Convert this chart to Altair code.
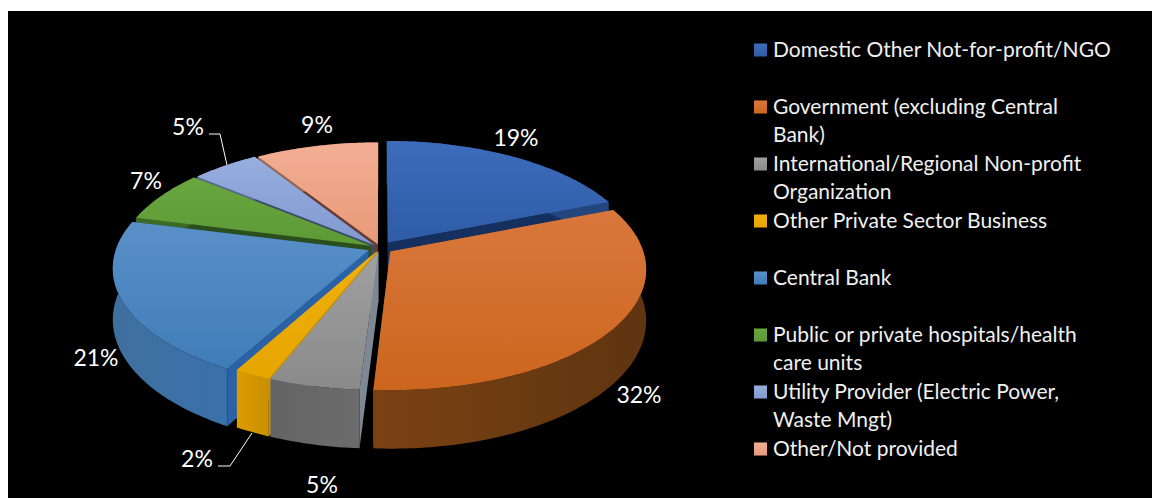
import math
import altair as alt
import pandas as pd

# Shares of respondents by institution type, clockwise from twelve o'clock
CATEGORIES = [
    "Domestic Other Not-for-profit/NGO",
    "Government (excluding Central Bank)",
    "International/Regional Non-profit Organization",
    "Other Private Sector Business",
    "Central Bank",
    "Public or private hospitals/health care units",
    "Utility Provider (Electric Power, Waste Mngt)",
    "Other/Not provided",
]
SHARES = [19, 32, 5, 2, 21, 7, 5, 9]

# Wrapped legend text, one list of lines per category
LEGEND_LINES = [
    ["Domestic Other Not-for-profit/NGO"],
    ["Government (excluding Central", "Bank)"],
    ["International/Regional Non-profit", "Organization"],
    ["Other Private Sector Business"],
    ["Central Bank"],
    ["Public or private hospitals/health", "care units"],
    ["Utility Provider (Electric Power,", "Waste Mngt)"],
    ["Other/Not provided"],
]

# Surface colours per slice: top gradient, outer wall gradient, cut face
TOP_STOPS = [
    ("#3d6cbc", "#2e5ca6"), ("#d9773c", "#cc661e"), ("#a0a0a0", "#8a8a8a"), ("#efb010", "#e6a600"),
    ("#5a90c8", "#3f7db8"), ("#6aa640", "#5d9a35"), ("#97aede", "#8099d0"), ("#f2ae94", "#e89a78"),
]
WALL_STOPS = [
    ("#24467f", "#24467f"), ("#7a4213", "#5f3410"), ("#646464", "#6c6c6c"), ("#dc9c00", "#c98f00"),
    ("#3f6f9e", "#3a70aa"), ("#3d6a24", "#3d6a24"), ("#5a6c98", "#5a6c98"), ("#9c6650", "#9c6650"),
]
CUT_COLORS = ["#15305f", "#8a4a15", "#7d8894", "#c98f00", "#2a62a8", "#2b4f1c", "#3c4c70", "#6b3b30"]

# How far each slice is pulled out of the disc, as a fraction of its radius
PULL = [0.055, 0.05, 0.03, 0.03, 0.05, 0.04, 0.035, 0.03]

# Label layout: text, centre x, centre y
PCT_LABELS = [("19%", 516, 139), ("32%", 639, 396), ("5%", 322, 486), ("2%", 197, 460),
              ("21%", 96, 359), ("7%", 146, 182), ("5%", 188, 128), ("9%", 317, 126)]
LEADERS = [[(227, 165), (220, 134), (209, 134)], [(252, 433), (230, 466), (218, 466)]]
LEGEND_Y = [51, 108, 136, 165, 193, 222, 279, 336, 364, 393, 421, 450]
SWATCH_Y = [50, 107, 164, 221, 278, 335, 392, 449]

# Projection of the tilted disc: unit-circle position to canvas position
CX, CY, RX, KY, PERSP, WALL = 380, 248, 252, 117.7, 1 / 7, 50
W, H = 1152, 498


def project(px, pz, drop=0.0):
    d = 1 - PERSP * pz
    return CX + RX * px / d, CY + (KY * pz + drop) / d


def slice_surfaces(start, end, pull):
    """Top, outer wall and cut faces of one exploded slice; angles in degrees."""
    mid = math.radians((start + end) / 2)
    ox, oz = pull * math.sin(mid), -pull * math.cos(mid)
    steps = max(2, int(end - start))
    rim = []
    for s in range(steps + 1):
        a = math.radians(start + (end - start) * s / steps)
        rim.append((ox + math.sin(a), oz - math.cos(a)))
    top = [project(ox, oz)] + [project(*p) for p in rim]
    wall = [project(*p) for p in rim] + [project(*p, WALL) for p in reversed(rim)]
    cuts = [
        [project(ox, oz), project(*p), project(*p, WALL), project(ox, oz, WALL)]
        for p in (rim[0], rim[-1])
    ]
    return top, wall, cuts


def gradient(stops, vertical=True):
    return alt.Gradient(
        gradient="linear",
        stops=[alt.GradientStop(offset=0, color=stops[0]), alt.GradientStop(offset=1, color=stops[1])],
        x1=0, y1=0, x2=0 if vertical else 1, y2=1 if vertical else 0,
    )


X = alt.X("x:Q", scale=alt.Scale(domain=[0, W], nice=False, zero=False), axis=None)
Y = alt.Y("y:Q", scale=alt.Scale(domain=[H, 0], nice=False, zero=False), axis=None)


def polygon(points, fill):
    df = pd.DataFrame({"x": [p[0] for p in points], "y": [p[1] for p in points], "i": range(len(points))})
    return alt.Chart(df).mark_line(
        interpolate="linear-closed", fill=fill, stroke=None, strokeWidth=0, clip=False
    ).encode(x=X, y=Y, order=alt.Order("i:Q"))


layers = [
    alt.Chart(pd.DataFrame({"x": [8], "x2": [W], "y": [11], "y2": [H]}))
    .mark_rect(color="black")
    .encode(x=X, x2="x2:Q", y=Y, y2="y2:Q")
]

# Slices are painted back to front
edges = [sum(SHARES[:i]) * 3.6 for i in range(len(SHARES) + 1)]
depth = [-math.cos(math.radians((edges[i] + edges[i + 1]) / 2)) for i in range(len(SHARES))]
for i in sorted(range(len(SHARES)), key=lambda k: depth[k]):
    top, wall, cuts = slice_surfaces(edges[i], edges[i + 1], PULL[i])
    for face in cuts:
        layers.append(polygon(face, CUT_COLORS[i]))
    layers.append(polygon(wall, gradient(WALL_STOPS[i], vertical=False)))
    layers.append(polygon(top, gradient(TOP_STOPS[i])))

# Leader lines for the two small labels
for leader in LEADERS:
    df = pd.DataFrame({"x": [p[0] for p in leader], "y": [p[1] for p in leader], "i": range(len(leader))})
    layers.append(alt.Chart(df).mark_line(color="white", strokeWidth=1).encode(x=X, y=Y, order=alt.Order("i:Q")))

# Percentage labels
label_df = pd.DataFrame(PCT_LABELS, columns=["t", "x", "y"])
layers.append(
    alt.Chart(label_df)
    .mark_text(font="Lato", fontSize=23, color="white", align="center", baseline="middle")
    .encode(x=X, y=Y, text="t:N")
)

# Legend swatches and wrapped text
row = 0
legend_rows = []
for i, lines in enumerate(LEGEND_LINES):
    swatch = pd.DataFrame({"x": [760.5], "y": [SWATCH_Y[i]]})
    layers.append(
        alt.Chart(swatch).mark_square(size=170, fill=gradient(TOP_STOPS[i]), stroke=None, opacity=1).encode(x=X, y=Y)
    )
    for line in lines:
        legend_rows.append({"t": line, "x": 773, "y": LEGEND_Y[row]})
        row += 1
layers.append(
    alt.Chart(pd.DataFrame(legend_rows))
    .mark_text(font="Lato", fontSize=21, color="#f0f0f0", align="left", baseline="middle")
    .encode(x=X, y=Y, text="t:N")
)

chart = (
    alt.layer(*layers)
    .properties(width=W, height=H, padding=0, background="white", autosize=alt.AutoSizeParams(type="none"))
    .configure_view(stroke=None)
)
chart.save("out.html", embed_options={"renderer": "svg", "actions": False})
